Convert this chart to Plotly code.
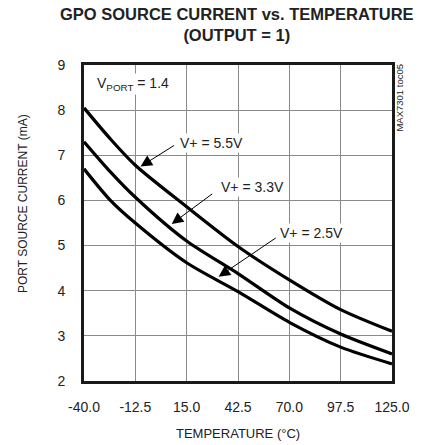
import plotly.graph_objects as go

# Data
temps = [-40.0, -26.25, -12.5, 15.0, 42.5, 70.0, 97.5, 125.0]
i_55 = [8.05, 7.38, 6.78, 5.86, 4.98, 4.24, 3.58, 3.10]
i_33 = [7.30, 6.65, 6.07, 5.10, 4.38, 3.62, 3.04, 2.60]
i_25 = [6.70, 6.02, 5.50, 4.62, 3.98, 3.30, 2.75, 2.38]

x_ticks = [-40.0, -12.5, 15.0, 42.5, 70.0, 97.5, 125.0]
x_tick_text = [f"{v:.1f}" for v in x_ticks]
y_ticks = [2, 3, 4, 5, 6, 7, 8, 9]

FONT = "Liberation Sans, Arial, sans-serif"
TXT = "#222"

fig = go.Figure()
for ys in (i_55, i_33, i_25):
    fig.add_trace(go.Scatter(x=temps, y=ys, mode="lines",
                             line=dict(color="black", width=3.2, shape="spline", smoothing=0.8),
                             showlegend=False, hoverinfo="skip"))

axis_common = dict(showgrid=True, gridcolor="#8a8a8a", gridwidth=1,
                   showline=True, linecolor="#1a1a1a", linewidth=2.6, mirror=True,
                   zeroline=False, ticks="", tickfont=dict(family=FONT, size=14, color=TXT))

fig.update_xaxes(range=[-40, 125], tickvals=x_ticks, ticktext=x_tick_text,
                 ticklabelstandoff=11, **axis_common)
fig.update_yaxes(range=[2, 9], tickvals=y_ticks, ticklabelstandoff=13, **axis_common)

ann = []
# title
ann.append(dict(text="<b>GPO SOURCE CURRENT vs. TEMPERATURE<br>(OUTPUT = 1)</b>",
                xref="paper", yref="paper", x=0.497, y=1.128, xanchor="center", yanchor="middle",
                showarrow=False, font=dict(family=FONT, size=16.5, color=TXT)))
# axis titles
ann.append(dict(text="TEMPERATURE (°C)", xref="paper", yref="paper", x=0.5, y=-0.165,
                xanchor="center", yanchor="middle", showarrow=False,
                font=dict(family=FONT, size=13, color=TXT)))
ann.append(dict(text="PORT SOURCE CURRENT (mA)", xref="paper", yref="paper", x=-0.196, y=0.562,
                xanchor="center", yanchor="middle", textangle=-90, showarrow=False,
                font=dict(family=FONT, size=12, color=TXT)))
ann.append(dict(text="MAX7301 toc05", xref="paper", yref="paper", x=1.025, y=0.896,
                xanchor="center", yanchor="middle", textangle=-90, showarrow=False,
                font=dict(family=FONT, size=9.5, color=TXT)))
# labels
label_font = dict(family=FONT, size=14, color=TXT)
ann.append(dict(text="V<sub>PORT</sub> = 1.4", x=-34.3, y=8.57, xanchor="left", yanchor="middle",
                showarrow=False, bgcolor="white", font=label_font))
labels = [("V+ = 5.5V", 10.2, 7.28, -9.7, 6.75, 9.1, 7.24),
          ("V+ = 3.3V", 32.1, 6.30, 7.0, 5.48, 29.5, 6.17),
          ("V+ = 2.5V", 64.0, 5.28, 32.1, 4.31, 63.5, 5.19)]
for txt, tx, ty, hx, hy, sx, sy in labels:
    ann.append(dict(text=txt, x=tx, y=ty, xanchor="left", yanchor="middle", showarrow=False,
                    bgcolor="white", borderpad=1, font=label_font))
    ann.append(dict(text="", x=hx, y=hy, ax=sx, ay=sy, axref="x", ayref="y",
                    showarrow=True, arrowhead=2, arrowsize=2.3, arrowwidth=1, arrowcolor="black"))

fig.update_layout(width=422, height=445, margin=dict(l=84, r=22, t=65, b=64),
                  plot_bgcolor="white", paper_bgcolor="white", annotations=ann,
                  font=dict(family=FONT, color=TXT))

fig.write_html("out.html", config={"displayModeBar": False},
               post_script="document.body.style.margin='0';document.body.style.overflow='hidden';")
